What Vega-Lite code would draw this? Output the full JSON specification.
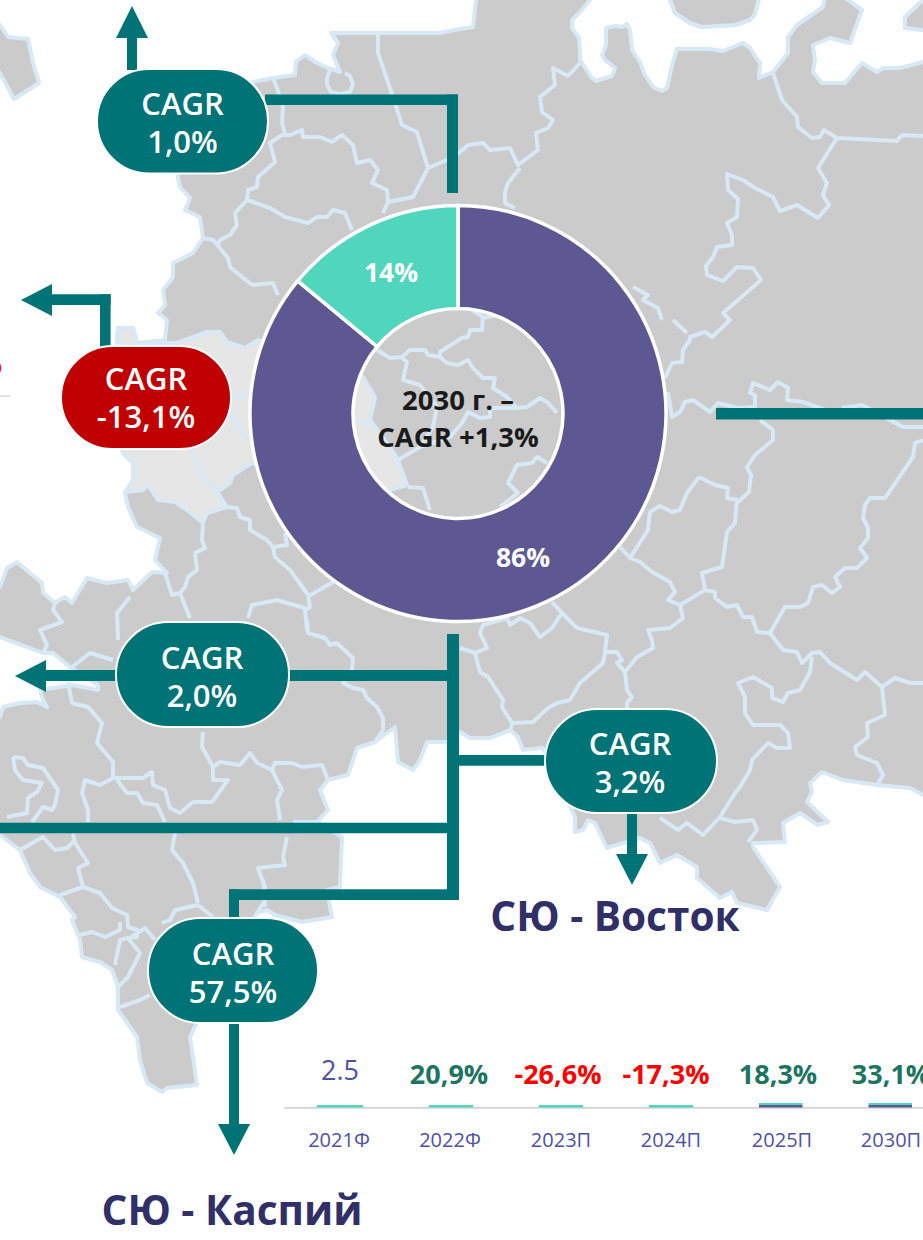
{"$schema":"https://vega.github.io/schema/vega-lite/v6.json","width":923,"height":1240,"padding":0,"autosize":{"type":"none"},"background":"white","resolve":{"scale":{"fill":"independent"}},
"layer":[
{"data":{"values":[{"type":"Feature","properties":{"n":"land"},"geometry":{"type":"Polygon","coordinates":[[[-10,-10],[933,-10],[933,1250],[-10,1250],[-10,-10]]]}}]},"mark":{"type":"geoshape","fill":"#cbcbcb","stroke":null},"projection":{"type":"identity","scale":1,"translate":[0,0]}},
{"data":{"values":[
{"type":"Feature","properties":{"n":"west"},"geometry":{"type":"Polygon","coordinates":[[[-10,-10],[477,-10],[476,0],[473,27],[460,29],[440,33],[331,33],[338,43],[333,55],[340,72],[328,68],[317,63],[305,55],[296,62],[295,75],[273,78],[253,82],[240,90],[177,173],[180,187],[190,198],[185,210],[200,217],[203,238],[193,253],[173,263],[173,277],[163,290],[165,305],[158,313],[167,320],[165,340],[137,343],[133,328],[118,328],[117,343],[110,400],[123,453],[133,463],[133,480],[125,493],[128,507],[137,527],[160,538],[155,560],[167,573],[152,572],[133,590],[128,580],[107,583],[87,578],[72,603],[65,597],[55,603],[43,593],[42,583],[17,562],[7,568],[0,587],[-10,590],[-10,-10]]]}},
{"type":"Feature","properties":{"n":"sw"},"geometry":{"type":"Polygon","coordinates":[[[-10,634],[0,637],[43,653],[53,653],[70,667],[98,685],[98,690],[72,685],[40,690],[43,700],[47,707],[37,702],[20,703],[3,707],[0,717],[-10,720],[-10,634]]]}},
{"type":"Feature","properties":{"n":"south"},"geometry":{"type":"Polygon","coordinates":[[[-10,830],[0,835],[20,850],[30,873],[40,887],[60,897],[75,917],[72,920],[80,940],[82,957],[100,962],[112,970],[118,987],[118,1010],[137,1037],[140,1060],[147,1083],[162,1092],[167,1088],[197,1085],[193,1057],[190,1037],[197,1023],[257,913],[267,910],[275,915],[302,922],[332,917],[327,890],[340,887],[342,837],[317,822],[328,810],[320,790],[328,780],[348,775],[357,748],[375,742],[395,727],[398,762],[413,770],[420,760],[427,742],[447,742],[460,732],[470,738],[490,738],[510,730],[518,737],[523,750],[543,748],[575,817],[575,832],[583,830],[588,820],[595,823],[607,848],[640,838],[650,843],[660,863],[677,855],[697,867],[697,878],[720,898],[732,892],[737,903],[767,910],[780,887],[753,847],[753,843],[785,842],[783,823],[800,813],[818,825],[828,822],[807,802],[812,792],[810,783],[822,772],[843,780],[877,785],[910,788],[923,795],[933,798],[933,1250],[-10,1250],[-10,830]]]}},
{"type":"Feature","properties":{"n":"north1"},"geometry":{"type":"Polygon","coordinates":[[[590,-5],[590,0],[580,12],[572,20],[572,28],[579,38],[580,50],[580,60],[592,78],[596,81],[612,76],[615,68],[605,60],[602,55],[606,45],[606,28],[615,26],[622,27],[627,24],[630,30],[632,50],[640,62],[645,75],[653,87],[662,91],[667,88],[672,65],[677,49],[710,49],[723,51],[743,43],[750,48],[760,63],[759,78],[773,72],[788,53],[788,37],[797,25],[823,7],[825,-5],[760,-5],[755,14],[750,20],[735,25],[702,27],[690,23],[675,13],[668,-5],[590,-5]]]}},
{"type":"Feature","properties":{"n":"north2"},"geometry":{"type":"Polygon","coordinates":[[[840,-5],[848,0],[862,10],[850,43],[830,38],[813,45],[815,60],[813,72],[822,83],[845,83],[862,63],[877,72],[883,68],[900,68],[923,62],[933,60],[933,32],[923,30],[905,28],[905,17],[923,0],[933,-5],[840,-5]]]}}
]},"mark":{"type":"geoshape","fill":"white","stroke":"#d6e9f5","strokeWidth":4,"strokeJoin":"round"},"projection":{"type":"identity","scale":1,"translate":[0,0]}},
{"data":{"values":[
{"type":"Feature","properties":{"n":"nw-island"},"geometry":{"type":"Polygon","coordinates":[[[-5,22],[0,25],[8,37],[28,39],[33,63],[39,83],[14,99],[0,73],[-5,70],[-5,22]]]}},
{"type":"Feature","properties":{"n":"south-tip"},"geometry":{"type":"Polygon","coordinates":[[[668,-6],[675,13],[690,23],[702,27],[735,25],[750,20],[755,14],[760,-6],[668,-6]]]}},
{"type":"Feature","properties":{"n":"ne-tip"},"geometry":{"type":"Polygon","coordinates":[[[933,-6],[923,0],[905,17],[905,28],[923,30],[933,31],[933,-6]]]}}
]},"mark":{"type":"geoshape","fill":"#cbcbcb","stroke":"#d6e9f5","strokeWidth":4,"strokeJoin":"round"},"projection":{"type":"identity","scale":1,"translate":[0,0]}},
{"data":{"values":[{"type":"Feature","properties":{"n":"light"},"geometry":{"type":"Polygon","coordinates":[[[177,343],[207,332],[220,332],[227,342],[245,348],[258,340],[363,377],[375,397],[370,420],[390,447],[398,460],[407,485],[390,490],[252,463],[233,475],[230,483],[217,492],[227,507],[207,513],[203,523],[187,510],[175,502],[158,500],[148,485],[143,490],[125,492],[133,480],[133,463],[123,453],[110,400],[117,343],[118,328],[133,328],[137,343],[177,343]]]}}]},"mark":{"type":"geoshape","fill":"#e6e6e6","stroke":"#d6e9f5","strokeWidth":4,"strokeJoin":"round"},"projection":{"type":"identity","scale":1,"translate":[0,0]}},
{"data":{"values":[{"type":"Feature","properties":{"n":"borders"},"geometry":{"type":"MultiLineString","coordinates":[
[[378,33],[378,53],[393,97],[402,125],[417,132],[428,168],[413,197],[388,202],[387,190],[372,183],[378,170],[370,160],[357,163],[353,145],[342,135],[332,142],[320,137],[303,137],[302,130],[290,135],[282,135],[270,143],[275,162],[258,177],[257,187],[248,190],[247,200],[235,213],[237,225],[230,235],[220,240],[217,247]],
[[330,70],[327,78],[327,85],[331,92],[340,94],[350,92],[353,84],[350,76],[345,73]],
[[428,168],[447,160],[460,152],[468,145],[483,143],[490,150],[510,148],[518,165],[538,150],[536,133],[548,128],[553,120],[542,112],[540,97],[555,85],[553,68],[568,76],[580,63]],
[[520,168],[508,183],[505,192],[505,203],[515,208]],
[[247,200],[270,208],[285,217],[308,223],[317,217],[327,217],[333,210],[345,213],[352,230]],
[[388,202],[383,213]],
[[273,78],[277,88],[283,107],[282,123],[285,133]],
[[203,238],[213,240],[228,258],[230,267],[252,285],[273,283],[278,295]],
[[773,73],[782,100],[797,117],[798,127],[812,138],[820,137],[824,130],[837,138],[897,141],[902,135],[923,136]],
[[837,138],[818,168],[827,183],[823,195],[829,205],[818,218],[797,205],[780,211],[773,197],[755,188],[743,180],[727,174],[728,190],[738,199],[737,217],[727,223],[732,235],[732,245],[717,247],[713,257],[706,266],[707,275],[723,281],[737,267],[753,268],[761,280],[723,313],[730,320],[712,337],[705,332],[690,337],[690,340],[683,350],[682,362],[672,363],[665,378]],
[[673,320],[687,333]],
[[633,287],[648,295],[643,300],[658,308],[662,320]],
[[668,392],[672,417],[680,412],[685,402],[693,400],[710,412],[718,403],[738,408],[755,407],[755,395],[750,393],[753,383],[770,390],[778,382],[788,388],[787,400],[803,402],[825,410]],
[[842,408],[862,405],[890,420],[903,427],[923,427]],
[[760,420],[773,430],[773,440],[755,455],[747,467],[751,475],[749,492],[738,502]],
[[699,477],[687,493],[680,510],[672,512],[660,506],[650,512],[648,530],[630,558],[620,547]],
[[699,477],[715,485],[728,488],[727,498],[737,500],[735,523],[727,532],[722,567],[702,573],[705,590],[680,605],[668,600],[675,592],[670,582],[652,572],[640,562],[630,558]],
[[705,590],[715,592],[715,598],[727,607],[737,605],[743,617],[752,617],[757,632],[770,633],[785,607],[800,607],[808,603],[813,587],[822,585],[832,593],[840,587],[835,577],[845,568],[857,568],[867,558],[860,548],[868,538],[868,528],[863,518],[865,505],[870,498],[885,498],[913,457],[915,443],[923,440]],
[[680,605],[683,618],[670,628],[648,630],[652,640],[653,648],[637,657],[625,672],[617,663],[622,660],[617,652],[605,652],[607,635],[577,628],[562,613],[552,602]],
[[625,672],[627,690],[632,697],[627,703],[627,710]],
[[605,653],[603,663],[580,683],[570,700],[557,703],[548,708],[533,722],[512,723],[502,707],[503,700],[488,677],[480,672],[475,653],[487,648],[480,633],[483,625],[507,618],[510,625],[520,618],[530,623],[540,637],[552,628],[562,613]],
[[512,723],[510,732]],
[[475,653],[460,648]],
[[307,620],[308,633],[325,638],[330,645],[337,643],[353,658],[352,670],[343,683],[353,688],[363,690],[367,698],[377,707],[383,718],[383,730],[375,742]],
[[307,597],[333,582]],
[[273,547],[275,557],[290,570],[308,595],[310,607],[305,610],[307,630]],
[[305,608],[287,603],[277,600],[252,605],[248,618]],
[[217,492],[227,507],[237,508],[240,517],[250,520],[250,530],[267,540],[273,547],[287,545],[285,533]],
[[203,523],[202,540],[205,548],[195,553],[197,570],[188,577],[185,587],[180,593],[172,595],[165,573]],
[[180,593],[190,618]],
[[130,597],[117,613],[118,640]],
[[55,603],[53,610],[62,622],[40,630],[47,645],[43,653]],
[[68,682],[72,703],[88,707],[102,723],[97,743],[113,762],[113,778]],
[[72,667],[90,653],[113,660]],
[[13,757],[23,758],[28,765],[43,768],[58,790],[55,805],[52,810],[43,807],[32,822]],
[[13,757],[15,770],[23,780],[42,783],[37,792],[28,798],[27,813],[7,817]],
[[113,778],[100,785],[85,780],[82,793],[88,810],[88,822]],
[[113,778],[123,778],[143,778],[152,772],[153,785],[165,790],[170,808],[180,813],[193,802],[212,802],[228,780],[213,780],[213,767],[202,747],[203,732]],
[[213,767],[220,762],[240,765],[250,753],[257,763],[272,770],[275,763],[292,763],[302,767],[322,765],[328,780]],
[[272,770],[282,790],[277,800],[280,820]],
[[117,780],[127,793],[137,793],[143,803],[157,805],[165,822]],
[[175,833],[172,850],[183,863],[193,883],[198,903]],
[[73,833],[75,843],[88,863],[78,868],[83,887],[60,895]],
[[20,850],[43,837],[55,850],[67,848],[75,840]],
[[83,887],[100,893],[112,908],[127,915],[128,927],[137,930],[137,937],[128,938],[120,940],[115,965]],
[[80,935],[92,932],[105,937],[120,930],[120,922]],
[[128,938],[140,953],[128,977],[118,987]],
[[120,1007],[140,1000],[150,995]],
[[130,938],[145,928],[155,940]],
[[198,905],[175,910],[170,920],[162,923]],
[[198,905],[213,917]],
[[263,880],[265,900],[257,913]],
[[287,837],[283,857],[285,865],[258,868],[265,887],[265,907]],
[[293,822],[317,822]],
[[377,350],[390,358],[402,357],[410,350],[425,350],[428,355],[440,357],[440,352],[462,338],[468,337],[470,330],[482,330],[483,317],[472,310]],
[[483,318],[497,315]],
[[402,358],[407,362],[403,380],[420,385],[437,407],[433,427],[420,447],[398,460]],
[[440,357],[447,363],[458,365],[468,360],[473,368],[483,378],[495,378],[493,388],[507,397],[517,408],[527,407],[540,398],[548,403],[557,413]],
[[420,447],[450,437],[462,423],[468,412],[480,418],[490,417],[490,408],[517,408]],
[[408,487],[423,488],[430,510]],
[[500,507],[518,493],[508,483],[517,465],[532,463],[537,457],[547,463]],
[[357,422],[370,422]],
[[233,397],[247,395]],
[[230,413],[248,440]],
[[192,450],[202,477],[217,490]],
[[770,633],[783,650],[797,652],[802,663],[812,653],[820,652],[830,663],[857,680],[865,672],[882,687],[895,678],[910,683],[923,683]],
[[812,657],[810,672],[800,690],[788,693],[783,702],[772,698],[772,688],[753,677],[738,683],[745,697],[745,713],[753,725],[780,725],[788,733],[790,748],[777,748],[768,743],[752,760],[750,770],[740,787],[735,793],[720,817],[703,835],[687,823],[678,830],[660,818]],
[[720,818],[735,822],[753,820],[757,830],[748,842]],
[[882,687],[885,715],[867,723],[868,737],[855,747],[857,755],[877,763],[883,775],[877,785]]
]}}]},"mark":{"type":"geoshape","filled":false,"stroke":"#d6e9f5","strokeWidth":4,"strokeJoin":"round"},"projection":{"type":"identity","scale":1,"translate":[0,0]}},
{"data":{"values":[
{"part":"up stem","a":127,"b":137,"c":38,"d":70},
{"part":"top h","a":265,"b":458,"c":94.5,"d":105},
{"part":"top v","a":447,"b":458,"c":94.5,"d":193},
{"part":"red h","a":52,"b":110.6,"c":294.3,"d":305},
{"part":"red v","a":100,"b":110.6,"c":294.3,"d":347},
{"part":"right","a":716,"b":933,"c":408,"d":419.5},
{"part":"trunk","a":447,"b":459,"c":634,"d":900},
{"part":"w1","a":46,"b":116,"c":670,"d":681},
{"part":"w2","a":288,"b":447,"c":670,"d":681},
{"part":"long","a":-10,"b":447,"c":822.7,"d":833.3},
{"part":"low","a":229,"b":459,"c":889.3,"d":900},
{"part":"low v","a":229,"b":239,"c":889.3,"d":919},
{"part":"e1","a":459,"b":545,"c":755,"d":765.7},
{"part":"e2","a":627,"b":637,"c":812,"d":855},
{"part":"s","a":229,"b":239,"c":1023,"d":1125}
]},"mark":{"type":"rect","fill":"#007377"},"encoding":{"x":{"field":"a","type":"quantitative","axis":null,"scale":{"domain":[0,923],"nice":false,"zero":false}},"x2":{"field":"b"},"y":{"field":"c","type":"quantitative","axis":null,"scale":{"domain":[1240,0],"nice":false,"zero":false}},"y2":{"field":"d"}}},
{"data":{"values":[
{"type":"Feature","properties":{"n":"h1"},"geometry":{"type":"Polygon","coordinates":[[[132,6],[148,38],[116,38],[132,6]]]}},
{"type":"Feature","properties":{"n":"h2"},"geometry":{"type":"Polygon","coordinates":[[[21,300],[52,284],[52,316],[21,300]]]}},
{"type":"Feature","properties":{"n":"h3"},"geometry":{"type":"Polygon","coordinates":[[[15,676],[46,660],[46,692],[15,676]]]}},
{"type":"Feature","properties":{"n":"h4"},"geometry":{"type":"Polygon","coordinates":[[[632,885],[648,854],[616,854],[632,885]]]}},
{"type":"Feature","properties":{"n":"h5"},"geometry":{"type":"Polygon","coordinates":[[[234,1155],[250,1124],[218,1124],[234,1155]]]}}
]},"mark":{"type":"geoshape","fill":"#007377","stroke":null},"projection":{"type":"identity","scale":1,"translate":[0,0]}},
{"data":{"values":[
{"label":"1,0%","a":97,"b":268,"c":69,"d":173.5,"tone":"up"},
{"label":"-13,1%","a":61,"b":231,"c":346,"d":449,"tone":"down"},
{"label":"2,0%","a":116,"b":289,"c":622,"d":727,"tone":"up"},
{"label":"3,2%","a":545,"b":717,"c":709,"d":813,"tone":"up"},
{"label":"57,5%","a":148,"b":318,"c":918,"d":1023,"tone":"up"}
]},"mark":{"type":"rect","cornerRadius":52,"stroke":"white","strokeWidth":2},"encoding":{"x":{"field":"a","type":"quantitative","axis":null,"scale":{"domain":[0,923],"nice":false,"zero":false}},"x2":{"field":"b"},"y":{"field":"c","type":"quantitative","axis":null,"scale":{"domain":[1240,0],"nice":false,"zero":false}},"y2":{"field":"d"},"fill":{"field":"tone","type":"nominal","legend":null,"scale":{"domain":["up","down"],"range":["#007377","#c00000"]}}}},
{"data":{"values":[{"segment":"Прочее","share":86,"o":1},{"segment":"Основное","share":14,"o":2}]},"mark":{"type":"arc","outerRadius":208,"innerRadius":105,"stroke":"white","strokeWidth":3.5},"encoding":{"theta":{"field":"share","type":"quantitative","stack":true,"scale":{"domain":[0,100]}},"order":{"field":"o"},"fill":{"field":"segment","type":"nominal","legend":null,"scale":{"domain":["Прочее","Основное"],"range":["#5e5892","#4fd6bc"]}},"x":{"datum":458,"type":"quantitative","axis":null,"scale":{"domain":[0,923],"nice":false,"zero":false}},"y":{"datum":413.5,"type":"quantitative","axis":null,"scale":{"domain":[1240,0],"nice":false,"zero":false}}}},
{"data":{"values":[
{"year":"axis","series":"axis","a":284,"b":933,"c":1107,"d":1108.7},
{"year":"axis2","series":"axis","a":-5,"b":10,"c":395.5,"d":396.8},
{"year":"2021Ф","series":"a","a":317,"b":363,"c":1105,"d":1107.5},
{"year":"2022Ф","series":"a","a":429,"b":473,"c":1105,"d":1107.5},
{"year":"2023П","series":"a","a":539,"b":583,"c":1105,"d":1107.5},
{"year":"2024П","series":"a","a":649,"b":693,"c":1105,"d":1107.5},
{"year":"2025П","series":"a","a":759,"b":802.5,"c":1103,"d":1105},
{"year":"2030П","series":"a","a":868.5,"b":912,"c":1103,"d":1105},
{"year":"2025П","series":"b","a":759,"b":802.5,"c":1105,"d":1107.5},
{"year":"2030П","series":"b","a":868.5,"b":912,"c":1105,"d":1107.5}
]},"mark":{"type":"rect"},"encoding":{"x":{"field":"a","type":"quantitative","axis":null,"scale":{"domain":[0,923],"nice":false,"zero":false}},"x2":{"field":"b"},"y":{"field":"c","type":"quantitative","axis":null,"scale":{"domain":[1240,0],"nice":false,"zero":false}},"y2":{"field":"d"},"fill":{"field":"series","type":"nominal","legend":null,"scale":{"domain":["a","b","axis"],"range":["#4fd6bc","#5e5892","#d4d4d4"]}}}},
{"data":{"values":[
{"t":"CAGR","x":182.5,"y":115},{"t":"1,0%","x":182.5,"y":153},
{"t":"CAGR","x":146,"y":390},{"t":"-13,1%","x":146,"y":428},
{"t":"CAGR","x":202,"y":669},{"t":"2,0%","x":202,"y":707},
{"t":"CAGR","x":630,"y":755},{"t":"3,2%","x":630,"y":793},
{"t":"CAGR","x":233,"y":965},{"t":"57,5%","x":233,"y":1003}
]},"mark":{"type":"text","font":"Open Sans","fontSize":31,"fontWeight":600,"fill":"white","align":"center","baseline":"alphabetic"},"encoding":{"text":{"field":"t"},"x":{"field":"x","type":"quantitative","axis":null,"scale":{"domain":[0,923],"nice":false,"zero":false}},"y":{"field":"y","type":"quantitative","axis":null,"scale":{"domain":[1240,0],"nice":false,"zero":false}}}},
{"data":{"values":[{"t":"14%","x":391,"y":282},{"t":"86%","x":523,"y":567}]},"mark":{"type":"text","font":"Open Sans","fontSize":26.5,"fontWeight":"bold","fill":"white","align":"center","baseline":"alphabetic"},"encoding":{"text":{"field":"t"},"x":{"field":"x","type":"quantitative","axis":null,"scale":{"domain":[0,923],"nice":false,"zero":false}},"y":{"field":"y","type":"quantitative","axis":null,"scale":{"domain":[1240,0],"nice":false,"zero":false}}}},
{"data":{"values":[{"t":"2030 г. –","x":458,"y":410},{"t":"CAGR +1,3%","x":458,"y":447}]},"mark":{"type":"text","font":"Open Sans","fontSize":27.5,"fontWeight":"bold","fill":"#1a1a1a","align":"center","baseline":"alphabetic"},"encoding":{"text":{"field":"t"},"x":{"field":"x","type":"quantitative","axis":null,"scale":{"domain":[0,923],"nice":false,"zero":false}},"y":{"field":"y","type":"quantitative","axis":null,"scale":{"domain":[1240,0],"nice":false,"zero":false}}}},
{"data":{"values":[{"t":"СЮ - Восток","x":615,"y":931},{"t":"СЮ - Каспий","x":232,"y":1225}]},"mark":{"type":"text","font":"Open Sans","fontSize":40.6,"fontWeight":"bold","fill":"#302f68","align":"center","baseline":"alphabetic"},"encoding":{"text":{"field":"t"},"x":{"field":"x","type":"quantitative","axis":null,"scale":{"domain":[0,923],"nice":false,"zero":false}},"y":{"field":"y","type":"quantitative","axis":null,"scale":{"domain":[1240,0],"nice":false,"zero":false}}}},
{"data":{"values":[{"t":"2.5","x":340,"y":1080}]},"mark":{"type":"text","font":"Open Sans","fontSize":27,"fill":"#5050a5","align":"center","baseline":"alphabetic"},"encoding":{"text":{"field":"t"},"x":{"field":"x","type":"quantitative","axis":null,"scale":{"domain":[0,923],"nice":false,"zero":false}},"y":{"field":"y","type":"quantitative","axis":null,"scale":{"domain":[1240,0],"nice":false,"zero":false}}}},
{"data":{"values":[
{"t":"20,9%","x":449,"y":1084,"dir":"up"},{"t":"-26,6%","x":558,"y":1084,"dir":"down"},{"t":"-17,3%","x":666,"y":1084,"dir":"down"},{"t":"18,3%","x":778,"y":1084,"dir":"up"},{"t":"33,1%","x":891,"y":1084,"dir":"up"}
]},"mark":{"type":"text","font":"Open Sans","fontSize":27,"fontWeight":"bold","align":"center","baseline":"alphabetic"},"encoding":{"text":{"field":"t"},"fill":{"field":"dir","type":"nominal","legend":null,"scale":{"domain":["up","down"],"range":["#1c7461","#ff0000"]}},"x":{"field":"x","type":"quantitative","axis":null,"scale":{"domain":[0,923],"nice":false,"zero":false}},"y":{"field":"y","type":"quantitative","axis":null,"scale":{"domain":[1240,0],"nice":false,"zero":false}}}},
{"data":{"values":[{"t":"%","x":2,"y":374}]},"mark":{"type":"text","font":"Open Sans","fontSize":26,"fontWeight":"bold","fill":"#ff0000","align":"right","baseline":"alphabetic"},"encoding":{"text":{"field":"t"},"x":{"field":"x","type":"quantitative","axis":null,"scale":{"domain":[0,923],"nice":false,"zero":false}},"y":{"field":"y","type":"quantitative","axis":null,"scale":{"domain":[1240,0],"nice":false,"zero":false}}}},
{"data":{"values":[{"t":"2021Ф","x":339},{"t":"2022Ф","x":450},{"t":"2023П","x":561},{"t":"2024П","x":671},{"t":"2025П","x":782},{"t":"2030П","x":891}]},"mark":{"type":"text","font":"Open Sans","fontSize":20,"fill":"#5050a5","align":"center","baseline":"alphabetic"},"encoding":{"text":{"field":"t"},"x":{"field":"x","type":"quantitative","axis":null,"scale":{"domain":[0,923],"nice":false,"zero":false}},"y":{"datum":1147,"type":"quantitative","axis":null,"scale":{"domain":[1240,0],"nice":false,"zero":false}}}}
]}
